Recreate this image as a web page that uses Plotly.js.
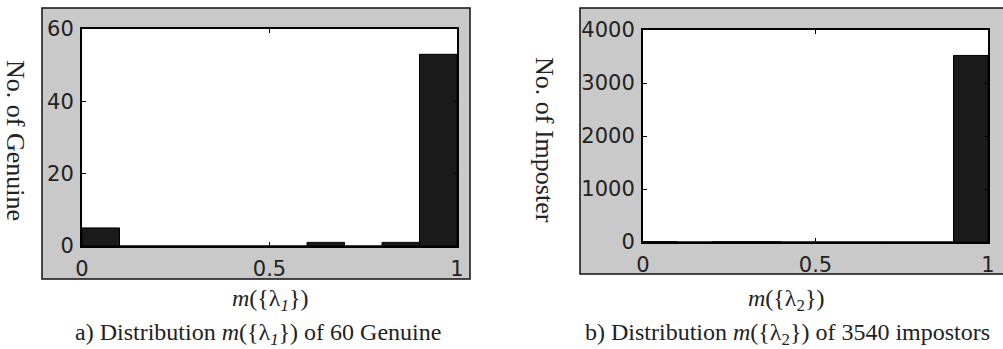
<!DOCTYPE html>
<html><head><meta charset="utf-8">
<script src="https://cdn.plot.ly/plotly-3.0.1.min.js"></script>
<style>html,body{margin:0;padding:0;background:#fff;}#c{width:1003px;height:349px;}</style>
</head><body><div id="c"></div>
<script>
// Data (bin centers of width 0.1 and counts)
const binCenters = [0.05,0.15,0.25,0.35,0.45,0.55,0.65,0.75,0.85,0.95];
const genuineCounts = [5,0,0,0,0,0,1,0,1,53];
const imposterCounts = [8,0,6,6,0,0,0,0,0,3520];
const binWidth = 0.1;
const xTicks = [0,0.5,1];
const xTickText = ['0','0.5','1'];
const yTicksA = [0,20,40,60];
const yTicksB = [0,1000,2000,3000,4000];
const yTitleA = 'No. of Genuine';
const yTitleB = 'No. of Imposter';
const xTitleA = '<i>m</i>({λ<sub><i>1</i></sub>})';
const xTitleB = '<i>m</i>({λ<sub>2</sub>})';
const captionA = 'a) Distribution <i>m</i>({λ<sub><i>1</i></sub>}) of 60 Genuine';
const captionB = 'b) Distribution <i>m</i>({λ<sub>2</sub>}) of 3540 impostors';

const W = 1003, H = 349;
const px = v => v / W, py = v => 1 - v / H;
const barStyle = {color:'#1a1a1a', line:{color:'#000', width:1}};
const tickFont = {family:'DejaVu Sans, sans-serif', size:21, color:'#222'};
const serif = {family:'Liberation Serif, Times New Roman, serif', size:24, color:'#222'};
const serifY = {family:'Liberation Serif, Times New Roman, serif', size:26, color:'#222'};

const traces = [
  {type:'bar', x:binCenters, y:genuineCounts, width:binWidth, marker:barStyle, xaxis:'x', yaxis:'y', hoverinfo:'skip'},
  {type:'bar', x:binCenters, y:imposterCounts, width:binWidth, marker:barStyle, xaxis:'x2', yaxis:'y2', hoverinfo:'skip'}
];
function xa(dom, anchor){return {domain:dom, anchor:anchor, range:[0,1], tickvals:xTicks, ticktext:xTickText,
  ticks:'inside', ticklen:4, tickcolor:'#000', mirror:'ticks', showline:true, linecolor:'#000', linewidth:2,
  showgrid:false, zeroline:false, tickfont:tickFont, ticklabelstandoff:3, fixedrange:true};}
function ya(dom, anchor, range, tv){return {domain:dom, anchor:anchor, range:range, tickvals:tv,
  ticks:'inside', ticklen:4, tickcolor:'#000', mirror:'ticks', showline:true, linecolor:'#000', linewidth:2,
  showgrid:false, zeroline:false, tickfont:tickFont, ticklabelstandoff:2, fixedrange:true};}

const layout = {
  width:W, height:H, margin:{l:0,r:0,t:0,b:0}, showlegend:false,
  paper_bgcolor:'#fff', plot_bgcolor:'#fff', bargap:0,
  xaxis: xa([px(82), px(457)], 'y'),
  yaxis: ya([py(246), py(29)], 'x', [0,60], yTicksA),
  xaxis2: xa([px(643), px(988)], 'y2'),
  yaxis2: ya([py(242), py(30)], 'x2', [0,4000], yTicksB),
  shapes:[
    {type:'rect', xref:'paper', yref:'paper', x0:px(42), x1:px(470), y0:py(279), y1:py(8), fillcolor:'#c9c9c9', line:{color:'#111', width:1.5}, layer:'below'},
    {type:'rect', xref:'paper', yref:'paper', x0:px(580), x1:px(1006), y0:py(274), y1:py(8), fillcolor:'#c9c9c9', line:{color:'#111', width:1.5}, layer:'below'},
    {type:'rect', xref:'x domain', yref:'y domain', x0:0, x1:1, y0:0, y1:1, fillcolor:'#fff', line:{width:0}, layer:'below'},
    {type:'rect', xref:'x2 domain', yref:'y2 domain', x0:0, x1:1, y0:0, y1:1, fillcolor:'#fff', line:{width:0}, layer:'below'}
  ],
  annotations:[
    {xref:'paper', yref:'paper', x:px(16), y:py(140), text:yTitleA, textangle:90, showarrow:false, font:serifY, xanchor:'center', yanchor:'middle'},
    {xref:'paper', yref:'paper', x:px(545), y:py(140), text:yTitleB, textangle:90, showarrow:false, font:serifY, xanchor:'center', yanchor:'middle'},
    {xref:'paper', yref:'paper', x:px(270), y:py(300), text:xTitleA, showarrow:false, font:serif, xanchor:'center', yanchor:'middle'},
    {xref:'paper', yref:'paper', x:px(786), y:py(300), text:xTitleB, showarrow:false, font:serif, xanchor:'center', yanchor:'middle'},
    {xref:'paper', yref:'paper', x:px(258), y:py(334), text:captionA, showarrow:false, font:serif, xanchor:'center', yanchor:'middle'},
    {xref:'paper', yref:'paper', x:px(787), y:py(334), text:captionB, showarrow:false, font:serif, xanchor:'center', yanchor:'middle'}
  ]
};
Plotly.newPlot('c', traces, layout, {displayModeBar:false, staticPlot:true});
</script></body></html>
